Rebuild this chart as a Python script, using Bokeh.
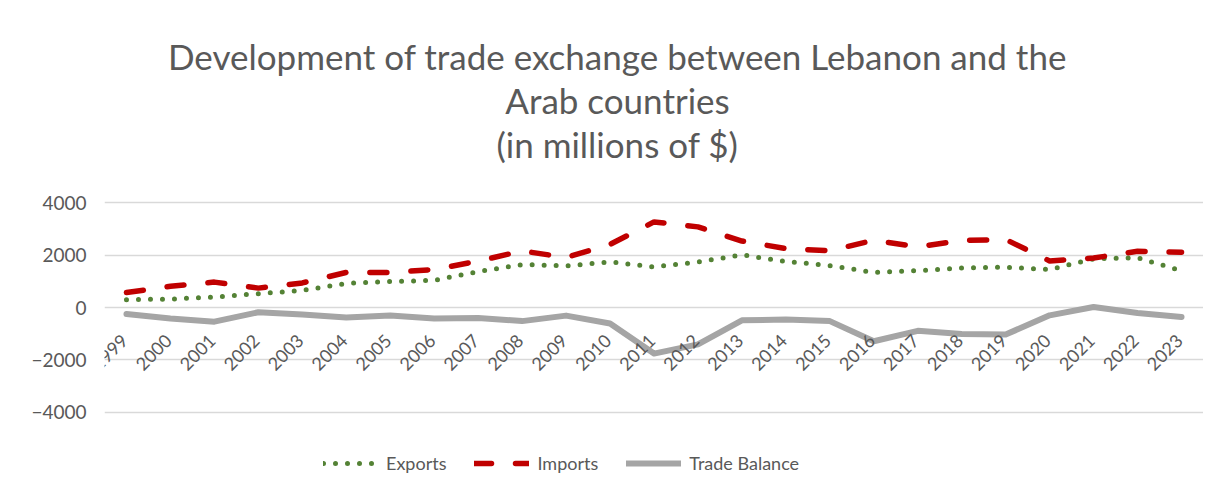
from bokeh.plotting import figure
from bokeh.models import (FactorRange, Range1d, FixedTicker, Legend, LegendItem, Label,
                          LabelSet, ColumnDataSource)
from bokeh.core.properties import value
from bokeh.embed import file_html
from bokeh.resources import INLINE
import math

years = ["1999", "2000", "2001", "2002", "2003", "2004", "2005", "2006", "2007",
         "2008", "2009", "2010", "2011", "2012", "2013", "2014", "2015", "2016",
         "2017", "2018", "2019", "2020", "2021", "2022", "2023"]
exports = [300, 320, 400, 530, 650, 920, 990, 1040, 1370, 1640, 1590, 1740, 1550,
           1740, 2010, 1760, 1600, 1340, 1410, 1510, 1540, 1450, 1860, 1900, 1400]
imports = [570, 810, 970, 740, 940, 1340, 1340, 1450, 1770, 2160, 1910, 2410, 3270,
           3080, 2540, 2250, 2170, 2570, 2320, 2560, 2600, 1780, 1890, 2150, 2110]
balance = [-250, -420, -540, -180, -270, -380, -310, -420, -400, -520, -310, -610,
           -1760, -1410, -490, -460, -520, -1290, -890, -1010, -1030, -300, 20, -210, -360]
y_ticks = [-4000, -2000, 0, 2000, 4000]
series_names = ["Exports", "Imports", "Trade Balance"]
title_lines = ["Development of trade exchange between Lebanon and the",
               "Arab countries",
               "(in millions of $)"]

FONT = "Lato"
TXT = "#595959"

# layout (pixels): plot area spans the full height; value axis occupies 4000..-4000
W, H = 1203, 477
TOP_PX, AXIS_PX = 202.3, 209.4          # px above the 4000 line, px from 4000 to -4000
px_per_unit = AXIS_PX / (y_ticks[-1] - y_ticks[0])
y_top = y_ticks[-1] + TOP_PX / px_per_unit
y_bottom = y_ticks[-1] - (H - TOP_PX) / px_per_unit

p = figure(width=W, height=H, output_backend="svg", toolbar_location=None,
           x_axis_location=None,
           x_range=FactorRange(*years),
           y_range=Range1d(y_bottom, y_top),
           min_border_left=104, min_border_right=0, min_border_top=0,
           min_border_bottom=0)
p.outline_line_color = None
p.background_fill_color = "white"

p.ygrid.grid_line_color = "#d9d9d9"
p.ygrid.grid_line_width = 1.3
p.xgrid.grid_line_color = None
p.yaxis.ticker = FixedTicker(ticks=y_ticks)
p.yaxis.axis_line_color = None
p.yaxis.major_tick_line_color = None
p.yaxis.minor_tick_line_color = None
p.yaxis.major_label_text_font = FONT
p.yaxis.major_label_text_font_size = "19px"
p.yaxis.major_label_text_color = TXT
p.yaxis.major_label_standoff = 12

# title lines (screen px from the bottom-left of the plot area)
for line, yb in zip(title_lines, [422, 378, 334]):
    p.add_layout(Label(x=513, y=yb, x_units="screen", y_units="screen", text=line,
                       text_align="center", text_baseline="alphabetic",
                       text_font=FONT, text_font_size="35px", text_color=TXT))

# category labels sit along the zero line, as in the original chart
lab_src = ColumnDataSource(dict(x=years, y=[0] * len(years), text=years))
p.add_layout(LabelSet(x="x", y="y", text="text", source=lab_src, angle=math.pi / 4,
                      text_align="right", text_baseline="middle", x_offset=-2,
                      y_offset=-30, text_font=value(FONT), text_font_size=value("18px"),
                      text_color=value(TXT)))

r_exp = p.line(years, exports, line_color="#548235", line_width=5,
               line_dash="0 12", line_cap="round")
r_imp = p.line(years, imports, line_color="#c00000", line_width=5.5,
               line_dash="17 24", line_cap="round")
r_bal = p.line(years, balance, line_color="#a5a5a5", line_width=6, line_cap="round",
               line_join="round")

legend = Legend(items=[LegendItem(label=series_names[0], renderers=[r_exp]),
                       LegendItem(label=series_names[1], renderers=[r_imp]),
                       LegendItem(label=series_names[2], renderers=[r_bal])],
                orientation="horizontal", location=(219, 3),
                label_text_font=FONT, label_text_font_size="18px", label_text_color=TXT,
                glyph_width=55, glyph_height=20, spacing=28, label_standoff=8,
                border_line_color=None, background_fill_alpha=0, padding=0, margin=0)
p.add_layout(legend, "center")

open("out.html", "w").write(file_html(p, INLINE))
